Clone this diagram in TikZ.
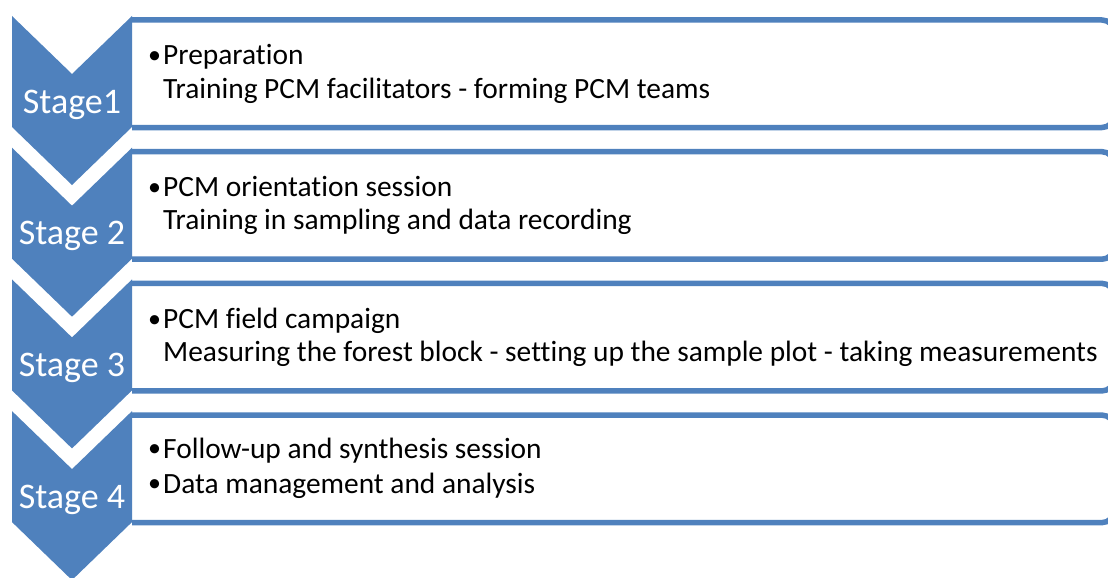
\documentclass[tikz,border=0pt]{standalone}
\usepackage{fontspec}
\setmainfont{Carlito}[Ligatures=NoCommon]
\definecolor{accent}{HTML}{4F81BD}
\tikzset{
  boxfill/.style={fill=white},
  boxline/.style={draw=accent, line width=5.5pt, line join=round},
  chevronfill/.style={fill=accent},
  stagetext/.style={text=white, font=\fontsize{36}{40}\selectfont, anchor=base, inner sep=0pt},
  itemtext/.style={text=black, font=\fontsize{29.4}{33}\selectfont, anchor=base west, inner sep=0pt},
}
\newcommand{\bul}{\makebox[13pt][l]{\hspace*{-2pt}\raisebox{1.2pt}{\fontsize{26}{26}\selectfont •}}}
\newcommand{\ind}{\hspace*{13pt}}
\begin{document}
\begin{tikzpicture}[x=1pt,y=-1pt]
\useasboundingbox (0,0) rectangle (1108,578);
\clip (0,0) rectangle (1108,578);
% content boxes (left side hidden behind chevrons, right side cut by the page)
\foreach \k in {0,1,2,3}{
  \pgfmathsetmacro\t{20+131.7*\k}
  \pgfmathsetmacro\b{127.5+131.7*\k}
  \fill[boxfill] (130,\t) rectangle (1112,\b);
  \draw[boxline] (132,\t) -- (1102,\t) to[out=0,in=90] (1114,\t+12) -- (1114,\b-12) to[out=-90,in=0] (1102,\b) -- (132,\b);
}
% chevrons
\foreach \k in {0,1,2,3}{
  \pgfmathsetmacro\y{16+131.7*\k}
  \fill[chevronfill] (12,\y) -- (72,\y+58) -- (132,\y) -- (132,\y+111) -- (72,\y+169) -- (12,\y+111) -- cycle;
}
% stage labels
\node[stagetext] (s1) at (72,113) {Stage1};
\node[stagetext] (s2) at (72,244.7) {Stage 2};
\node[stagetext] (s3) at (72,376.4) {Stage 3};
\node[stagetext] (s4) at (72,508) {Stage 4};
% texts
\node[itemtext] (a1) at (150,65) {\bul Preparation};
\node[itemtext] (a2) at (150,98) {\ind Training PCM facilitators - forming PCM teams};
\node[itemtext] (b1) at (150,196.7) {\bul PCM orientation session};
\node[itemtext] (b2) at (150,229.7) {\ind Training in sampling and data recording};
\node[itemtext] (c1) at (150,328.4) {\bul PCM field campaign};
\node[itemtext] (c2) at (150,361.4) {\ind Measuring the forest block - setting up the sample plot - taking measurements};
\node[itemtext] (d1) at (150,458) {\bul Follow-up and synthesis session};
\node[itemtext] (d2) at (150,493) {\bul Data management and analysis};
\end{tikzpicture}
\end{document}
